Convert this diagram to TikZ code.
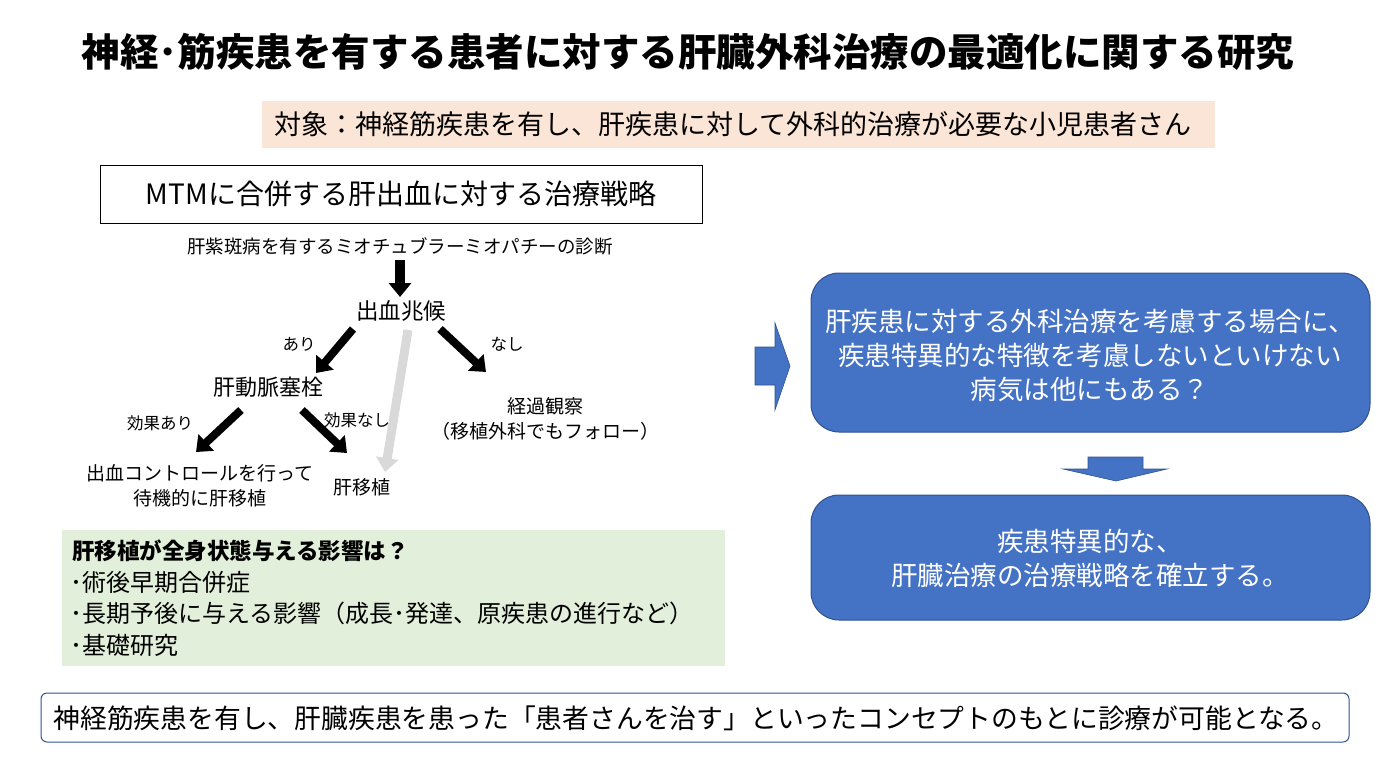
\documentclass[tikz,border=0pt]{standalone}
\usepackage{fontspec}
\setmainfont{Noto Sans CJK JP}
\usetikzlibrary{arrows.meta}
\definecolor{blueF}{HTML}{4472C4}
\definecolor{blueD}{HTML}{2F528F}
\definecolor{peach}{HTML}{FBE5D6}
\definecolor{greenF}{HTML}{E2EFDA}
\definecolor{lgray}{HTML}{D9D9D9}
\tikzset{
  blk/.style={line width=8pt, -{Triangle[width=22pt,length=14pt]}, black},
  gry/.style={line width=9pt, -{Triangle[width=22pt,length=14pt]}, lgray},
  lbl/.style={font=\fontsize{16.5}{18}\selectfont},
  txt/.style={font=\fontsize{19}{25}\selectfont, align=center},
  bluebox/.style={fill=blueF, draw=blueD, line width=1pt, rounded corners=28pt, minimum width=559pt},
  whitetxt/.style={text=white, font=\fontsize{26.5}{34}\selectfont, align=center},
  gtxt/.style={anchor=west, font=\fontsize{24}{26}\selectfont},
}
\begin{document}
\begin{tikzpicture}[x=1pt,y=-1pt, every node/.style={inner sep=0pt, outer sep=0pt}]
\useasboundingbox (0,0) rectangle (1389,776);
% title
\node[font=\bfseries\fontsize{38.5}{40}\selectfont] (title) at (688,52) {神経･筋疾患を有する患者に対する肝臓外科治療の最適化に関する研究};
% target band
\node[fill=peach, minimum width=953pt, minimum height=47pt] (target) at (738.5,124.5) {};
\node[font=\fontsize{27}{30}\selectfont] (targett) at (733,124.5) {対象：神経筋疾患を有し、肝疾患に対して外科的治療が必要な小児患者さん};
% MTM box
\node[draw, line width=1pt, minimum width=602pt, minimum height=58pt, font=\fontsize{28}{30}\selectfont] (mtm) at (401,194) {MTMに合併する肝出血に対する治療戦略};
% flow
\node[font=\fontsize{18.5}{20}\selectfont] (diag) at (400,246) {肝紫斑病を有するミオチュブラーミオパチーの診断};
\node[font=\fontsize{22.5}{24}\selectfont] (sign) at (401,311) {出血兆候};
\node[font=\fontsize{22}{24}\selectfont] (embol) at (268,387) {肝動脈塞栓};
\node[txt] (obs) at (545,419) {経過観察\\（移植外科でもフォロー）};
\node[txt] (ctrl) at (200,486) {出血コントロールを行って\\待機的に肝移植};
\node[txt] (ltx) at (362,487) {肝移植};
\node[lbl] (ari) at (299,344) {あり};
\node[lbl] (nashi) at (507,344) {なし};
\node[lbl] (kari) at (160,423) {効果あり};
\node[lbl] (knashi) at (357,420) {効果なし};
% arrow ends
\coordinate (d0) at (400,260); \coordinate (d1) at (400,297);
\coordinate (g0) at (408,330); \coordinate (g1) at (385,472);
\coordinate (l0) at (353,329); \coordinate (l1) at (316,373);
\coordinate (r0) at (440,329); \coordinate (r1) at (486,372);
\coordinate (el0) at (241,410); \coordinate (el1) at (196,452);
\coordinate (er0) at (302,410); \coordinate (er1) at (347,453);
\draw[gry] (g0) -- (g1);
\draw[line width=10pt, -{Triangle[width=22pt,length=14pt]}] (d0) -- (d1);
\draw[blk] (l0) -- (l1);
\draw[blk] (r0) -- (r1);
\draw[blk] (el0) -- (el1);
\draw[blk] (er0) -- (er1);
% green box
\node[fill=greenF, minimum width=663pt, minimum height=136pt] (green) at (393.5,598) {};
\node[gtxt, font=\bfseries\fontsize{22.5}{26}\selectfont] (g1t) at (72,551) {肝移植が全身状態与える影響は？};
\node[gtxt] (g2t) at (70,582) {･術後早期合併症};
\node[gtxt] (g3t) at (70,613) {･長期予後に与える影響（成長･発達、原疾患の進行など）};
\node[gtxt] (g4t) at (70,645) {･基礎研究};
% blue right arrow
\fill[blueF, draw=blueD, line width=0.6pt] (755,347) -- (775,347) -- (775,323) -- (790,366) -- (775,410) -- (775,385) -- (755,385) -- cycle;
% blue box 1
\node[bluebox, minimum height=159pt] (q) at (1090.5,352.5) {};
\node[whitetxt] (qt) at (1090,356) {肝疾患に対する外科治療を考慮する場合に、\\疾患特異的な特徴を考慮しないといけない\\病気は他にもある？};
% down arrow
\fill[blueF, draw=blueD, line width=0.6pt] (1088,457) -- (1143,457) -- (1143,469) -- (1167,469) -- (1116,481) -- (1063,469) -- (1088,469) -- cycle;
% blue box 2
\node[bluebox, minimum height=125pt] (a) at (1090.5,557.5) {};
\node[whitetxt] (at) at (1090,558) {疾患特異的な、\\肝臓治療の治療戦略を確立する。};
% bottom
\node[draw=blueD, line width=1pt, rounded corners=6pt, minimum width=1308pt, minimum height=49pt] (bottom) at (695,717.5) {};
\node[font=\fontsize{26.8}{28}\selectfont] (bt) at (696,718) {神経筋疾患を有し、肝臓疾患を患った「患者さんを治す」といったコンセプトのもとに診療が可能となる。};
\end{tikzpicture}
\end{document}
